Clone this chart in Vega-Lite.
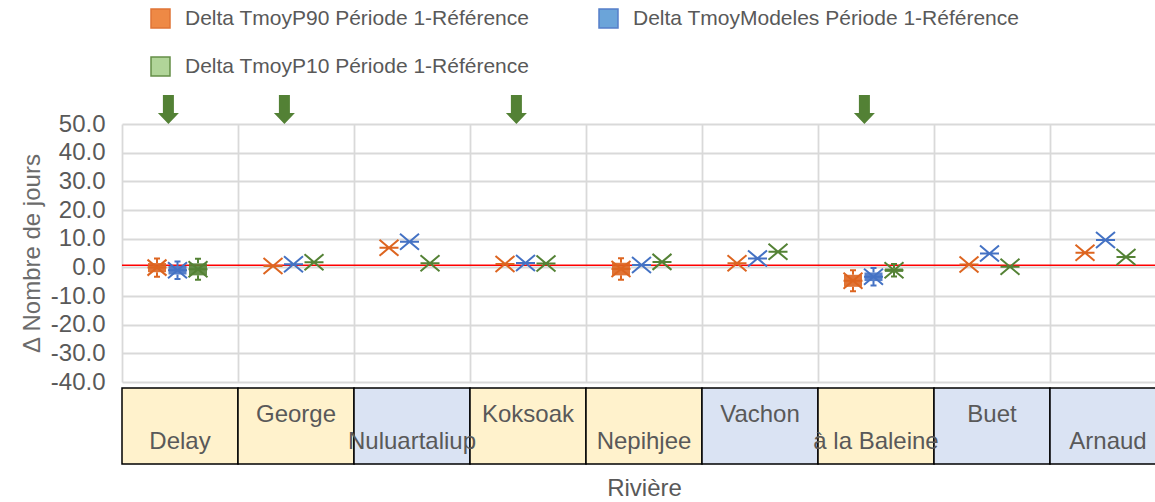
{
  "$schema": "https://vega.github.io/schema/vega-lite/v6.json",
  "width": 1033,
  "height": 258,
  "autosize": {"type": "none"},
  "padding": {"left": 122, "top": 124, "right": 0, "bottom": 120},
  "background": "white",
  "config": {
    "font": "Liberation Sans",
    "view": {"stroke": null},
    "axisX": {
      "labels": false, "ticks": false, "domain": false,
      "grid": true, "gridColor": "#d9d9d9", "gridWidth": 1.8,
      "bandPosition": 0,
      "titleFontSize": 24, "titleFontWeight": "normal", "titleColor": "#595959", "titlePadding": 94
    },
    "axisY": {
      "ticks": false, "domain": false, "labelOverlap": false, "tickCount": 10,
      "labelExpr": "replace(format(datum.value, '.1f'), '−', '-')",
      "grid": true, "gridColor": "#d9d9d9", "gridWidth": 1.8,
      "labelFontSize": 24, "labelColor": "#595959", "labelPadding": 17,
      "titleFontSize": 24, "titleFontWeight": "normal", "titleColor": "#6b6b6b", "titlePadding": 6
    }
  },
  "datasets": {
    "rivieres": [
      {"riviere": "Delay", "groupe": "1", "fleche": true},
      {"riviere": "George", "groupe": "1", "fleche": true},
      {"riviere": "Nuluartaliup", "groupe": "2", "fleche": false},
      {"riviere": "Koksoak", "groupe": "1", "fleche": true},
      {"riviere": "Nepihjee", "groupe": "1", "fleche": false},
      {"riviere": "Vachon", "groupe": "2", "fleche": false},
      {"riviere": "à la Baleine", "groupe": "1", "fleche": true},
      {"riviere": "Buet", "groupe": "2", "fleche": false},
      {"riviere": "Arnaud", "groupe": "2", "fleche": false}
    ],
    "deltas": [
      {"riviere": "Delay", "serie": "Delta TmoyP90 Période 1-Référence", "valeur": -0.1, "bas": -1.7, "haut": 1.5},
      {"riviere": "Delay", "serie": "Delta TmoyModeles Période 1-Référence", "valeur": -1.0, "bas": -2.5, "haut": 0.5},
      {"riviere": "Delay", "serie": "Delta TmoyP10 Période 1-Référence", "valeur": -0.7, "bas": -2.8, "haut": 1.4},
      {"riviere": "George", "serie": "Delta TmoyP90 Période 1-Référence", "valeur": 0.5, "bas": null, "haut": null},
      {"riviere": "George", "serie": "Delta TmoyModeles Période 1-Référence", "valeur": 1.1, "bas": null, "haut": null},
      {"riviere": "George", "serie": "Delta TmoyP10 Période 1-Référence", "valeur": 1.8, "bas": null, "haut": null},
      {"riviere": "Nuluartaliup", "serie": "Delta TmoyP90 Période 1-Référence", "valeur": 6.8, "bas": null, "haut": null},
      {"riviere": "Nuluartaliup", "serie": "Delta TmoyModeles Période 1-Référence", "valeur": 8.9, "bas": null, "haut": null},
      {"riviere": "Nuluartaliup", "serie": "Delta TmoyP10 Période 1-Référence", "valeur": 1.4, "bas": null, "haut": null},
      {"riviere": "Koksoak", "serie": "Delta TmoyP90 Période 1-Référence", "valeur": 1.2, "bas": null, "haut": null},
      {"riviere": "Koksoak", "serie": "Delta TmoyModeles Période 1-Référence", "valeur": 1.5, "bas": null, "haut": null},
      {"riviere": "Koksoak", "serie": "Delta TmoyP10 Période 1-Référence", "valeur": 1.3, "bas": null, "haut": null},
      {"riviere": "Nepihjee", "serie": "Delta TmoyP90 Période 1-Référence", "valeur": -0.6, "bas": -2.8, "haut": 1.6},
      {"riviere": "Nepihjee", "serie": "Delta TmoyModeles Période 1-Référence", "valeur": 0.8, "bas": null, "haut": null},
      {"riviere": "Nepihjee", "serie": "Delta TmoyP10 Période 1-Référence", "valeur": 1.9, "bas": null, "haut": null},
      {"riviere": "Vachon", "serie": "Delta TmoyP90 Période 1-Référence", "valeur": 1.4, "bas": null, "haut": null},
      {"riviere": "Vachon", "serie": "Delta TmoyModeles Période 1-Référence", "valeur": 3.1, "bas": null, "haut": null},
      {"riviere": "Vachon", "serie": "Delta TmoyP10 Période 1-Référence", "valeur": 5.4, "bas": null, "haut": null},
      {"riviere": "à la Baleine", "serie": "Delta TmoyP90 Période 1-Référence", "valeur": -4.7, "bas": -6.8, "haut": -2.6},
      {"riviere": "à la Baleine", "serie": "Delta TmoyModeles Période 1-Référence", "valeur": -3.3, "bas": -4.8, "haut": -1.8},
      {"riviere": "à la Baleine", "serie": "Delta TmoyP10 Période 1-Référence", "valeur": -1.0, "bas": -1.6, "haut": -0.4},
      {"riviere": "Buet", "serie": "Delta TmoyP90 Période 1-Référence", "valeur": 1.0, "bas": null, "haut": null},
      {"riviere": "Buet", "serie": "Delta TmoyModeles Période 1-Référence", "valeur": 4.8, "bas": null, "haut": null},
      {"riviere": "Buet", "serie": "Delta TmoyP10 Période 1-Référence", "valeur": 0.2, "bas": null, "haut": null},
      {"riviere": "Arnaud", "serie": "Delta TmoyP90 Période 1-Référence", "valeur": 5.1, "bas": null, "haut": null},
      {"riviere": "Arnaud", "serie": "Delta TmoyModeles Période 1-Référence", "valeur": 9.5, "bas": null, "haut": null},
      {"riviere": "Arnaud", "serie": "Delta TmoyP10 Période 1-Référence", "valeur": 3.6, "bas": null, "haut": null}
    ]
  },
  "layer": [
    {
      "data": {"name": "rivieres"},
      "transform": [{"window": [{"op": "row_number", "as": "rang"}]}, {"filter": "datum.rang == 1"}],
      "mark": {"type": "rule", "color": "#FF0000", "strokeWidth": 1.5},
      "encoding": {
        "y": {"datum": 0.7, "type": "quantitative", "title": "Δ Nombre de jours",
              "scale": {"domain": [-40, 50], "nice": false, "zero": false}}
      }
    },
    {
      "data": {"name": "deltas"},
      "transform": [{"filter": "datum.bas != null"}],
      "mark": {"type": "rule", "strokeWidth": 18, "strokeCap": "butt", "opacity": 0.9},
      "encoding": {
        "x": {"field": "riviere", "type": "nominal", "title": "Rivière", "sort": null,
              "scale": {"type": "band", "domain": ["Delay", "George", "Nuluartaliup", "Koksoak", "Nepihjee", "Vachon", "à la Baleine", "Buet", "Arnaud"], "range": [0, 1044], "paddingInner": 0, "paddingOuter": 0}},
        "xOffset": {"field": "serie", "type": "nominal",
              "scale": {"type": "point", "domain": ["Delta TmoyP90 Période 1-Référence", "Delta TmoyModeles Période 1-Référence", "Delta TmoyP10 Période 1-Référence"], "range": [35, 76], "padding": 0}},
        "y": {"field": "bas", "type": "quantitative", "title": "Δ Nombre de jours"},
        "y2": {"field": "haut"},
        "stroke": {"field": "serie", "type": "nominal",
              "scale": {"domain": ["Delta TmoyP90 Période 1-Référence", "Delta TmoyP10 Période 1-Référence", "Delta TmoyModeles Période 1-Référence"], "range": ["#DD6520", "#548235", "#4472C4"]}}
      }
    },
    {
      "data": {"name": "deltas"},
      "transform": [{"filter": "datum.bas != null"}],
      "mark": {"type": "point", "shape": "M0,0V-0.9M-0.6,-0.9H0.6", "size": 100, "strokeWidth": 2, "opacity": 1},
      "encoding": {
        "x": {"field": "riviere", "type": "nominal", "title": "Rivière", "sort": null},
        "xOffset": {"field": "serie", "type": "nominal"},
        "y": {"field": "haut", "type": "quantitative", "title": "Δ Nombre de jours"},
        "stroke": {"field": "serie", "type": "nominal"}
      }
    },
    {
      "data": {"name": "deltas"},
      "transform": [{"filter": "datum.bas != null"}],
      "mark": {"type": "point", "shape": "M0,0V0.9M-0.6,0.9H0.6", "size": 100, "strokeWidth": 2, "opacity": 1},
      "encoding": {
        "x": {"field": "riviere", "type": "nominal", "title": "Rivière", "sort": null},
        "xOffset": {"field": "serie", "type": "nominal"},
        "y": {"field": "bas", "type": "quantitative", "title": "Δ Nombre de jours"},
        "stroke": {"field": "serie", "type": "nominal"}
      }
    },
    {
      "data": {"name": "deltas"},
      "mark": {"type": "point", "shape": "M-0.95,-0.8L0.95,0.8M-0.95,0.8L0.95,-0.8M-0.95,0L0.95,0", "size": 400, "strokeWidth": 2, "opacity": 1},
      "encoding": {
        "x": {"field": "riviere", "type": "nominal", "title": "Rivière", "sort": null},
        "xOffset": {"field": "serie", "type": "nominal"},
        "y": {"field": "valeur", "type": "quantitative", "title": "Δ Nombre de jours"},
        "stroke": {"field": "serie", "type": "nominal",
              "legend": {"title": null, "orient": "none", "legendX": 28, "legendY": -116, "columns": 2, "columnPadding": 66, "rowPadding": 23,
                         "symbolType": "square", "symbolSize": 361, "symbolStrokeWidth": 1.5, "symbolOpacity": 1,
                         "labelFontSize": 21, "labelColor": "#595959", "labelOffset": 14, "labelLimit": 0, "padding": 0}},
        "fill": {"field": "serie", "type": "nominal",
              "scale": {"domain": ["Delta TmoyP90 Période 1-Référence", "Delta TmoyP10 Période 1-Référence", "Delta TmoyModeles Période 1-Référence"], "range": ["#ED7D31", "#A9D18E", "#5B9BD5"]},
              "legend": {"title": null, "orient": "none", "legendX": 28, "legendY": -116, "columns": 2, "columnPadding": 66, "rowPadding": 23,
                         "symbolType": "square", "symbolSize": 361, "symbolStrokeWidth": 1.5, "symbolOpacity": 1,
                         "labelFontSize": 21, "labelColor": "#595959", "labelOffset": 14, "labelLimit": 0, "padding": 0}}
      }
    },
    {
      "data": {"name": "rivieres"},
      "transform": [{"filter": "datum.fleche"}],
      "mark": {"type": "point", "shape": "M-0.55,-2.9H0.55V-1.1H1.05L0,0L-1.05,-1.1H-0.55Z", "size": 400, "filled": true, "color": "#538135", "opacity": 1},
      "encoding": {
        "x": {"field": "riviere", "type": "nominal", "title": "Rivière", "sort": null, "bandPosition": 0.4},
        "y": {"datum": 50, "type": "quantitative", "title": "Δ Nombre de jours"}
      }
    },
    {
      "data": {"name": "rivieres"},
      "mark": {"type": "rect", "stroke": "#000000", "strokeWidth": 1.5},
      "encoding": {
        "x": {"field": "riviere", "type": "nominal", "title": "Rivière", "sort": null, "bandPosition": 0},
        "x2": {"field": "riviere", "bandPosition": 1},
        "y": {"datum": -42.1, "type": "quantitative", "title": "Δ Nombre de jours"},
        "y2": {"datum": -68.6},
        "color": {"field": "groupe", "type": "nominal", "legend": null,
                 "scale": {"domain": ["1", "2"], "range": ["#FFF2CC", "#DAE3F3"]}}
      }
    },
    {
      "data": {"name": "rivieres"},
      "transform": [{"window": [{"op": "row_number", "as": "rang"}]}, {"filter": "datum.rang % 2 == 0"}],
      "mark": {"type": "text", "fontSize": 24, "color": "#595959", "baseline": "alphabetic"},
      "encoding": {
        "x": {"field": "riviere", "type": "nominal", "title": "Rivière", "sort": null},
        "y": {"datum": -54.0, "type": "quantitative", "title": "Δ Nombre de jours"},
        "text": {"field": "riviere"}
      }
    },
    {
      "data": {"name": "rivieres"},
      "transform": [{"window": [{"op": "row_number", "as": "rang"}]}, {"filter": "datum.rang % 2 == 1"}],
      "mark": {"type": "text", "fontSize": 24, "color": "#595959", "baseline": "alphabetic"},
      "encoding": {
        "x": {"field": "riviere", "type": "nominal", "title": "Rivière", "sort": null},
        "y": {"datum": -63.4, "type": "quantitative", "title": "Δ Nombre de jours"},
        "text": {"field": "riviere"}
      }
    }
  ]
}
